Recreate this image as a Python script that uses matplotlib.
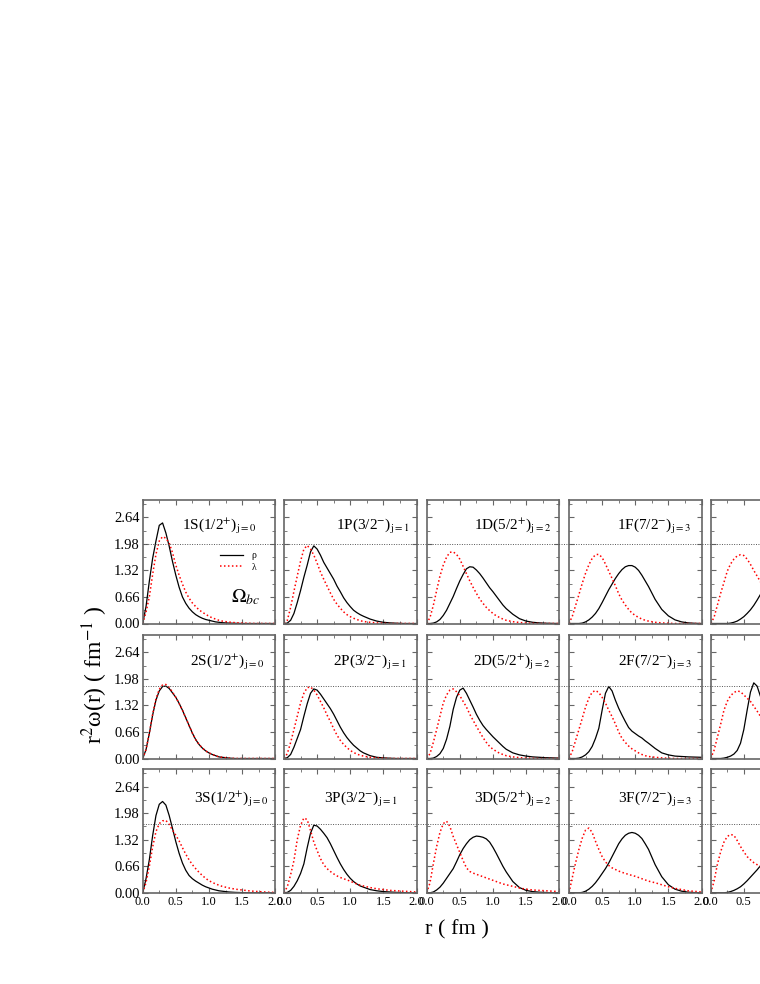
import matplotlib
matplotlib.use('Agg')
import matplotlib.pyplot as plt
from matplotlib.lines import Line2D
from matplotlib.transforms import blended_transform_factory

plt.rcParams['font.family'] = 'serif'
plt.rcParams['font.serif'] = ['Liberation Serif', 'DejaVu Serif']
plt.rcParams['mathtext.fontset'] = 'stix'

# r grid (fm)
r = [0.00, 0.05, 0.10, 0.15, 0.20, 0.25, 0.30, 0.35, 0.40, 0.45, 0.50, 0.55,
     0.60, 0.65, 0.70, 0.75, 0.80, 0.85, 0.90, 0.95, 1.00, 1.05, 1.10, 1.15,
     1.20, 1.3, 1.4, 1.5, 1.6, 1.7, 1.8, 1.9, 2.0]
r5 = r[:18]  # last column is cut off at the right edge

# row 1
rho_1S = [0, 0.42, 1.05, 1.62, 2.05, 2.44, 2.50, 2.25, 1.92, 1.54, 1.20, 0.90, 0.66, 0.50, 0.38, 0.29, 0.22, 0.17, 0.13, 0.10, 0.08, 0.06, 0.04, 0.03, 0.02,
          0.01, 0.005, 0, 0, 0, 0, 0, 0]
lam_1S = [0, 0.28, 0.66, 1.22, 1.72, 2.05, 2.16, 2.12, 2.00, 1.76, 1.45, 1.20, 0.98, 0.78, 0.63, 0.51, 0.42, 0.34, 0.28, 0.23, 0.18, 0.14, 0.11, 0.08, 0.06,
          0.035, 0.02, 0.01, 0.005, 0, 0, 0, 0]
rho_1P = [0, 0.01, 0.08, 0.25, 0.52, 0.82, 1.15, 1.45, 1.78, 1.93, 1.85, 1.70, 1.52, 1.38, 1.24, 1.10, 0.93, 0.79, 0.64, 0.52, 0.42, 0.33, 0.27, 0.22, 0.18,
          0.11, 0.06, 0.03, 0.015, 0.007, 0, 0, 0]
lam_1P = [0, 0.08, 0.40, 0.80, 1.18, 1.55, 1.85, 1.94, 1.85, 1.70, 1.50, 1.28, 1.10, 0.93, 0.76, 0.60, 0.48, 0.38, 0.29, 0.22, 0.17, 0.13, 0.10, 0.07, 0.05,
          0.03, 0.015, 0.007, 0, 0, 0, 0, 0]
rho_1D = [0, 0, 0.01, 0.04, 0.10, 0.20, 0.33, 0.50, 0.67, 0.87, 1.06, 1.22, 1.36, 1.41, 1.40, 1.33, 1.24, 1.13, 1.01, 0.89, 0.79, 0.68, 0.57, 0.46, 0.37,
          0.23, 0.12, 0.06, 0.03, 0.015, 0.007, 0.003, 0]
lam_1D = [0, 0.15, 0.45, 0.82, 1.18, 1.45, 1.65, 1.77, 1.78, 1.72, 1.60, 1.42, 1.24, 1.06, 0.90, 0.75, 0.61, 0.50, 0.40, 0.32, 0.25, 0.19, 0.15, 0.11, 0.08,
          0.045, 0.025, 0.012, 0.006, 0, 0, 0, 0]
rho_1F = [0, 0, 0, 0, 0.01, 0.04, 0.09, 0.16, 0.25, 0.37, 0.52, 0.68, 0.84, 0.98, 1.12, 1.24, 1.34, 1.41, 1.44, 1.44, 1.40, 1.32, 1.20, 1.06, 0.92,
          0.60, 0.35, 0.19, 0.09, 0.04, 0.015, 0.005, 0]
lam_1F = [0, 0.18, 0.45, 0.72, 1.00, 1.25, 1.46, 1.62, 1.71, 1.72, 1.64, 1.48, 1.30, 1.12, 0.94, 0.74, 0.58, 0.46, 0.35, 0.26, 0.20, 0.15, 0.11, 0.08, 0.06,
          0.03, 0.015, 0.007, 0, 0, 0, 0, 0]
rho_1G = [0, 0, 0, 0, 0, 0, 0.01, 0.03, 0.06, 0.11, 0.17, 0.25, 0.34, 0.45, 0.58, 0.72, 0.86, 1.00]
lam_1G = [0, 0.15, 0.45, 0.75, 1.02, 1.30, 1.48, 1.60, 1.68, 1.71, 1.69, 1.60, 1.47, 1.32, 1.18, 1.04, 0.90, 0.77]

# row 2
rho_2S = [0, 0.22, 0.62, 1.08, 1.45, 1.68, 1.79, 1.80, 1.74, 1.63, 1.52, 1.37, 1.20, 1.01, 0.82, 0.63, 0.47, 0.35, 0.26, 0.19, 0.14, 0.10, 0.07, 0.04, 0.03,
          0.01, 0, 0, 0, 0, 0, 0, 0]
lam_2S = [0, 0.22, 0.63, 1.10, 1.48, 1.72, 1.83, 1.84, 1.77, 1.65, 1.52, 1.37, 1.20, 1.01, 0.82, 0.63, 0.47, 0.35, 0.26, 0.19, 0.14, 0.10, 0.07, 0.04, 0.03,
          0.01, 0, 0, 0, 0, 0, 0, 0]
rho_2P = [0, 0.02, 0.10, 0.28, 0.50, 0.72, 1.05, 1.36, 1.62, 1.73, 1.70, 1.60, 1.48, 1.36, 1.24, 1.10, 0.94, 0.78, 0.64, 0.52, 0.42, 0.33, 0.26, 0.19, 0.14,
          0.07, 0.03, 0.015, 0.007, 0, 0, 0, 0]
lam_2P = [0, 0.12, 0.40, 0.72, 1.05, 1.38, 1.62, 1.76, 1.78, 1.70, 1.58, 1.42, 1.26, 1.08, 0.92, 0.74, 0.58, 0.45, 0.35, 0.27, 0.20, 0.15, 0.11, 0.08, 0.06,
          0.03, 0.015, 0.006, 0, 0, 0, 0, 0]
rho_2D = [0, 0, 0.01, 0.05, 0.12, 0.25, 0.48, 0.80, 1.22, 1.52, 1.70, 1.75, 1.62, 1.45, 1.28, 1.10, 0.95, 0.82, 0.72, 0.63, 0.54, 0.46, 0.38, 0.30, 0.23,
          0.14, 0.09, 0.06, 0.04, 0.03, 0.02, 0.015, 0.01]
lam_2D = [0, 0.12, 0.40, 0.72, 1.05, 1.38, 1.58, 1.70, 1.73, 1.66, 1.56, 1.42, 1.28, 1.10, 0.95, 0.80, 0.66, 0.52, 0.40, 0.30, 0.23, 0.18, 0.13, 0.10, 0.07,
          0.04, 0.02, 0.01, 0.005, 0, 0, 0, 0]
rho_2F = [0, 0, 0, 0.01, 0.04, 0.09, 0.17, 0.30, 0.50, 0.75, 1.20, 1.62, 1.79, 1.68, 1.45, 1.25, 1.08, 0.92, 0.77, 0.68, 0.62, 0.56, 0.51, 0.44, 0.38,
          0.25, 0.14, 0.09, 0.06, 0.05, 0.04, 0.035, 0.03]
lam_2F = [0, 0.18, 0.45, 0.72, 1.00, 1.28, 1.50, 1.65, 1.69, 1.64, 1.52, 1.38, 1.20, 1.04, 0.86, 0.66, 0.50, 0.40, 0.31, 0.24, 0.19, 0.14, 0.10, 0.07, 0.05,
          0.03, 0.015, 0.007, 0, 0, 0, 0, 0]
rho_2G = [0, 0, 0, 0, 0.01, 0.03, 0.06, 0.11, 0.20, 0.38, 0.72, 1.20, 1.65, 1.88, 1.80, 1.55, 1.30, 1.10]
lam_2G = [0, 0.20, 0.52, 0.85, 1.20, 1.42, 1.56, 1.64, 1.68, 1.66, 1.58, 1.50, 1.42, 1.30, 1.18, 1.05, 0.92, 0.80]

# row 3
rho_3S = [0, 0.35, 0.82, 1.42, 1.92, 2.20, 2.27, 2.18, 1.92, 1.60, 1.27, 0.98, 0.74, 0.56, 0.43, 0.35, 0.29, 0.24, 0.19, 0.15, 0.12, 0.09, 0.07, 0.05, 0.04,
          0.02, 0.01, 0.005, 0, 0, 0, 0, 0]
lam_3S = [0, 0.25, 0.66, 1.14, 1.52, 1.72, 1.79, 1.80, 1.70, 1.56, 1.43, 1.29, 1.12, 0.96, 0.82, 0.70, 0.60, 0.51, 0.43, 0.36, 0.30, 0.26, 0.22, 0.19, 0.16,
          0.12, 0.09, 0.07, 0.05, 0.035, 0.025, 0.015, 0.01]
rho_3P = [0, 0.01, 0.06, 0.16, 0.30, 0.48, 0.72, 1.12, 1.48, 1.68, 1.66, 1.58, 1.48, 1.37, 1.22, 1.05, 0.88, 0.72, 0.58, 0.46, 0.36, 0.28, 0.22, 0.17, 0.14,
          0.08, 0.05, 0.03, 0.02, 0.01, 0.005, 0, 0]
lam_3P = [0, 0.15, 0.45, 0.80, 1.32, 1.68, 1.86, 1.82, 1.55, 1.26, 1.05, 0.85, 0.70, 0.60, 0.53, 0.47, 0.42, 0.38, 0.35, 0.32, 0.29, 0.25, 0.22, 0.19, 0.17,
          0.13, 0.10, 0.08, 0.06, 0.05, 0.04, 0.03, 0.02]
rho_3D = [0, 0, 0.02, 0.07, 0.14, 0.24, 0.36, 0.48, 0.60, 0.77, 0.95, 1.10, 1.22, 1.32, 1.38, 1.41, 1.40, 1.38, 1.34, 1.26, 1.13, 0.98, 0.82, 0.66, 0.52,
          0.28, 0.13, 0.06, 0.03, 0.015, 0.007, 0, 0]
lam_3D = [0, 0.25, 0.72, 1.15, 1.50, 1.72, 1.78, 1.65, 1.40, 1.20, 1.00, 0.80, 0.62, 0.53, 0.49, 0.46, 0.43, 0.40, 0.37, 0.34, 0.31, 0.28, 0.25, 0.22, 0.20,
          0.16, 0.12, 0.09, 0.07, 0.06, 0.05, 0.04, 0.03]
rho_3F = [0, 0, 0, 0, 0.01, 0.04, 0.09, 0.16, 0.25, 0.36, 0.48, 0.60, 0.74, 0.90, 1.06, 1.22, 1.34, 1.43, 1.48, 1.50, 1.48, 1.43, 1.35, 1.22, 1.08,
          0.70, 0.40, 0.20, 0.09, 0.04, 0.015, 0.005, 0]
lam_3F = [0, 0.38, 0.75, 1.08, 1.36, 1.56, 1.61, 1.50, 1.28, 1.08, 0.90, 0.77, 0.68, 0.62, 0.58, 0.54, 0.51, 0.48, 0.46, 0.43, 0.41, 0.38, 0.35, 0.32, 0.29,
          0.25, 0.20, 0.15, 0.11, 0.08, 0.05, 0.035, 0.02]
rho_3G = [0, 0, 0, 0, 0, 0.01, 0.03, 0.06, 0.10, 0.15, 0.22, 0.30, 0.39, 0.48, 0.57, 0.67, 0.78, 0.90]
lam_3G = [0, 0.28, 0.70, 1.02, 1.26, 1.40, 1.45, 1.43, 1.30, 1.15, 1.02, 0.90, 0.82, 0.75, 0.70, 0.66, 0.62, 0.59]

state_labels = [
    [r'1S(1/2$^{+}$)$_{\mathrm{j=0}}$', r'1P(3/2$^{-}$)$_{\mathrm{j=1}}$', r'1D(5/2$^{+}$)$_{\mathrm{j=2}}$', r'1F(7/2$^{-}$)$_{\mathrm{j=3}}$', ''],
    [r'2S(1/2$^{+}$)$_{\mathrm{j=0}}$', r'2P(3/2$^{-}$)$_{\mathrm{j=1}}$', r'2D(5/2$^{+}$)$_{\mathrm{j=2}}$', r'2F(7/2$^{-}$)$_{\mathrm{j=3}}$', ''],
    [r'3S(1/2$^{+}$)$_{\mathrm{j=0}}$', r'3P(3/2$^{-}$)$_{\mathrm{j=1}}$', r'3D(5/2$^{+}$)$_{\mathrm{j=2}}$', r'3F(7/2$^{-}$)$_{\mathrm{j=3}}$', ''],
]
rho_rows = [[rho_1S, rho_1P, rho_1D, rho_1F, rho_1G],
            [rho_2S, rho_2P, rho_2D, rho_2F, rho_2G],
            [rho_3S, rho_3P, rho_3D, rho_3F, rho_3G]]
lam_rows = [[lam_1S, lam_1P, lam_1D, lam_1F, lam_1G],
            [lam_2S, lam_2P, lam_2D, lam_2F, lam_2G],
            [lam_3S, lam_3P, lam_3D, lam_3F, lam_3G]]
ref_levels = [1.98, 1.80, 1.70]  # dotted guide line in each row
yticks = [0.00, 0.66, 1.32, 1.98, 2.64]
xticks = [0.0, 0.5, 1.0, 1.5, 2.0]

W, H = 760, 984
fig = plt.figure(figsize=(W / 100, H / 100), dpi=100)

col_left = [142.7, 284, 426.7, 569, 710.7]
row_top = [500, 635, 769.3]
pw, ph = 132.5, 123.5
label_x = [[0.86, 0.95, 0.94, 0.92, 0.93],
           [0.92, 0.93, 0.93, 0.93, 0.93],
           [0.95, 0.86, 0.94, 0.93, 0.93]]
label_y = [0.76, 0.75, 0.73]
frame = '#666666'

axes = []
for i in range(3):
    for j in range(5):
        ax = fig.add_axes([col_left[j] / W, 1 - (row_top[i] + ph) / H, pw / W, ph / H])
        xr = r if j < 4 else r5
        ax.plot(xr, rho_rows[i][j], color='black', lw=0.9, label='ρ')
        ax.plot(xr, lam_rows[i][j], color='red', lw=1.1, ls=(0, (1, 1.6)), label='λ')
        ax.set_xlim(0, 2.0)
        ax.set_ylim(0, 3.07)
        ax.set_xticks(xticks)
        ax.set_xticks([0.25, 0.75, 1.25, 1.75], minor=True)
        ax.set_yticks(yticks)
        ax.set_yticks([0.33, 0.99, 1.65, 2.31, 2.97], minor=True)
        ax.tick_params(which='both', direction='in', top=True, right=True, color=frame)
        ax.tick_params(which='major', length=3.5, width=0.8)
        ax.tick_params(which='minor', length=2, width=0.6)
        ax.tick_params(axis='x', labelsize=9, pad=2)
        ax.tick_params(axis='y', labelsize=10.5, pad=2)
        for s in ax.spines.values():
            s.set_color(frame)
            s.set_linewidth(1.2)
        if j > 0:
            ax.set_yticklabels([])
        else:
            ax.set_yticklabels(['%.2f' % v for v in yticks])
        if i < 2:
            ax.set_xticklabels([])
        elif j < 4:
            ax.set_xticklabels(['%.1f' % v for v in xticks])
        else:
            # only the first two labels of the cut-off column are in view
            ax.set_xticklabels(['0.0', '0.5', '', '', ''])
        if state_labels[i][j]:
            ax.text(label_x[i][j], label_y[i], state_labels[i][j], transform=ax.transAxes,
                    ha='right', va='baseline', fontsize=11)
        axes.append(ax)
    # dotted guide line running across the whole row
    tr = blended_transform_factory(fig.transFigure, axes[i * 5].transData)
    fig.add_artist(Line2D([col_left[0] / W, 1.0], [ref_levels[i], ref_levels[i]],
                          transform=tr, color='#555555', lw=0.7, ls=(0, (1, 1.5))))

ax0 = axes[0]
ax0.legend(loc='upper left', bbox_to_anchor=(0.53, 0.64), frameon=False, fontsize=7,
           handlelength=2.4, handletextpad=0.9, labelspacing=0.25, borderpad=0.2)
ax0.text(0.78, 0.21, r'$\Omega_{bc}$', transform=ax0.transAxes, ha='center', va='center', fontsize=14)

fig.text(95 / W, 1 - 675 / H, r'r$^{2}$ω(r) ( fm$^{-1}$ )', rotation=90,
         ha='center', va='center', fontsize=17)
fig.text(457 / W, 1 - 930 / H, 'r ( fm )', ha='center', va='center', fontsize=16)

fig.savefig('out.png', dpi=100)
